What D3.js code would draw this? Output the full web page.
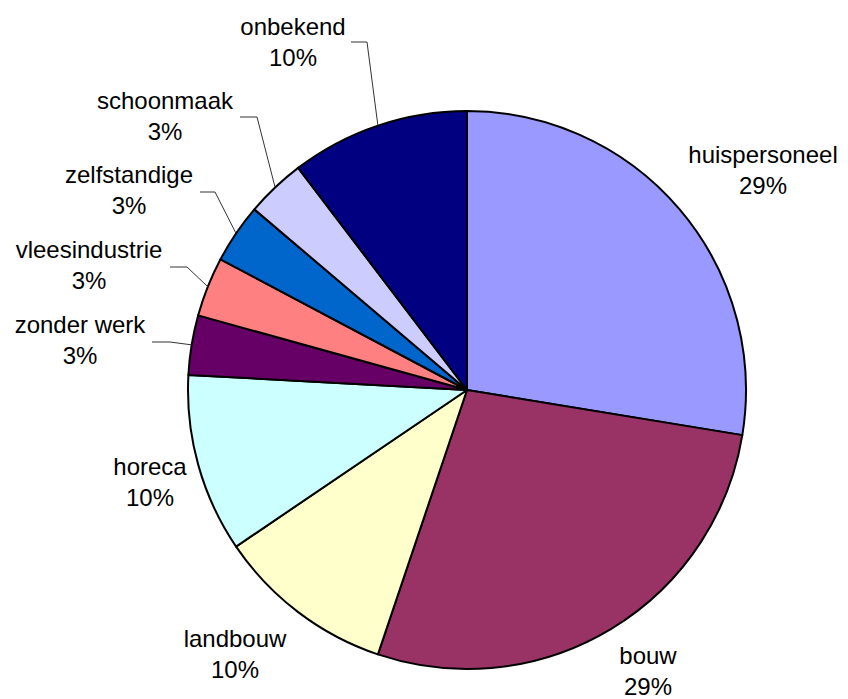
<!DOCTYPE html>
<html>
<head>
<meta charset="utf-8">
<script src="https://cdn.jsdelivr.net/npm/d3@7"></script>
<style>
  html, body { margin: 0; padding: 0; background: #fff; }
  svg { display: block; }
  text { font-family: "Liberation Sans", Arial, sans-serif; font-size: 24px; fill: #000; }
</style>
</head>
<body>
<svg id="chart" width="848" height="699"></svg>
<script>
// Data
const categories = ["huispersoneel", "bouw", "landbouw", "horeca", "zonder werk", "vleesindustrie", "zelfstandige", "schoonmaak", "onbekend"];
const values = [8, 8, 3, 3, 1, 1, 1, 1, 3];
const pctLabels = ["29%", "29%", "10%", "10%", "3%", "3%", "3%", "3%", "10%"];

// Styles / layout (not data)
const colors = ["#9999FF", "#993366", "#FFFFCC", "#CCFFFF", "#660066", "#FF8080", "#0066CC", "#CCCCFF", "#000080"];
// label anchor: centre x, first baseline y; leader: start x of horizontal segment, end x, y
const labelLayout = [
  { x: 763, y: 163 },
  { x: 648, y: 664 },
  { x: 235, y: 647 },
  { x: 150, y: 475 },
  { x: 80,  y: 333, lx0: 152, lx1: 170, ly: 342 },
  { x: 89,  y: 258, lx0: 170, lx1: 187, ly: 267 },
  { x: 129, y: 183, lx0: 200, lx1: 215, ly: 192 },
  { x: 165, y: 109, lx0: 240, lx1: 257, ly: 117 },
  { x: 293, y: 35,  lx0: 351, lx1: 367, ly: 42 }
];

const cx = 467, cy = 390, R = 279;
const svg = d3.select("#chart");
const g = svg.append("g").attr("transform", `translate(${cx},${cy})`);

const pie = d3.pie().sort(null).value(d => d.value);
const arcs = pie(categories.map((c, i) => ({ cat: c, value: values[i], pct: pctLabels[i], i })));
const arc = d3.arc().innerRadius(0).outerRadius(R);

g.selectAll("path.slice").data(arcs).enter().append("path")
  .attr("class", "slice")
  .attr("d", arc)
  .attr("fill", d => colors[d.data.i])
  .attr("stroke", "#000")
  .attr("stroke-width", 2)
  .attr("stroke-linejoin", "round");

// leader lines
arcs.forEach(d => {
  const L = labelLayout[d.data.i];
  if (L.lx0 === undefined) return;
  const mid = (d.startAngle + d.endAngle) / 2;
  const ex = cx + R * Math.sin(mid), ey = cy - R * Math.cos(mid);
  svg.append("polyline")
    .attr("points", `${L.lx0},${L.ly} ${L.lx1},${L.ly} ${ex},${ey}`)
    .attr("fill", "none")
    .attr("stroke", "#333")
    .attr("stroke-width", 1);
});

// labels
arcs.forEach(d => {
  const L = labelLayout[d.data.i];
  const t = svg.append("text").attr("text-anchor", "middle");
  t.append("tspan").attr("x", L.x).attr("y", L.y).text(d.data.cat);
  t.append("tspan").attr("x", L.x).attr("y", L.y + 31).text(d.data.pct);
});
</script>
</body>
</html>
